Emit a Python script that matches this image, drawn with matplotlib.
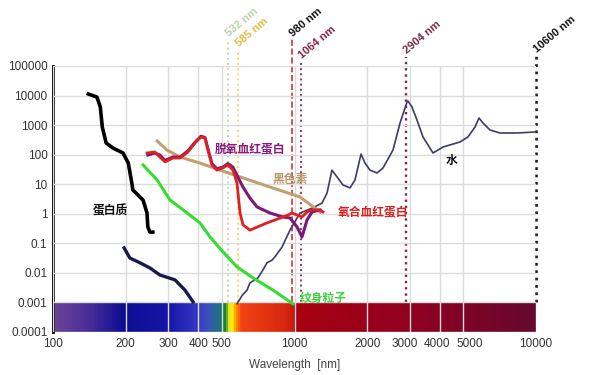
import numpy as np
import matplotlib.pyplot as plt
import matplotlib.transforms as mtransforms
from matplotlib.colors import LinearSegmentedColormap

plt.rcParams['font.family'] = ['Liberation Sans', 'Noto Sans CJK SC', 'DejaVu Sans']
cjk = ['Noto Sans CJK SC', 'DejaVu Sans']

# absorption curves, wavelength in nm vs relative absorption
protein_nm = [140, 152, 157, 160, 166, 177, 195, 205, 212, 214, 225, 236, 245, 247, 252, 259]
protein_val = [11300, 8900, 4100, 860, 248, 168, 114, 52, 11, 6.4, 4.3, 2.9, 1.07, 0.36, 0.24, 0.24]

protein2_nm = [197, 208, 229, 252, 277, 320, 352, 380]
protein2_val = [0.070, 0.032, 0.022, 0.0147, 0.0085, 0.0058, 0.0026, 0.00105]

tattoo_nm = [236, 270, 305, 359, 406, 447, 506, 578, 673, 815, 958, 985]
tattoo_val = [45, 13.8, 2.93, 1.07, 0.49, 0.164, 0.051, 0.016, 0.0068, 0.0026, 0.00105, 0.0009]

melanin_nm = [270, 296, 336, 406, 491, 769, 1054, 1276]
melanin_val = [290, 144, 83, 52, 30, 8.7, 3.7, 1.15]

oxy_nm = [245, 264, 277, 291, 314, 336, 362, 387, 410, 426, 438, 455, 477, 506, 530, 556, 578,
          595, 612, 654, 769, 896, 940, 977, 1024, 1074, 1127, 1182, 1275, 1312]
oxy_val = [114, 123, 83, 57, 77, 77, 123, 248, 396, 366, 144, 45, 30, 36, 45, 30, 11,
           1.06, 0.42, 0.28, 0.49, 0.78, 0.91, 1.06, 0.91, 0.78, 1.15, 1.35, 1.35, 1.15]

deoxy_nm = [247, 264, 277, 291, 314, 336, 362, 387, 410, 426, 438, 455, 477, 506, 530, 556, 578,
            612, 654, 700, 792, 896, 958, 1024, 1074, 1127, 1182, 1275]
deoxy_val = [97, 114, 97, 64, 83, 83, 135, 260, 420, 380, 160, 50, 33, 38, 50, 38, 20,
             8, 3.4, 1.7, 1.06, 0.78, 0.72, 0.36, 0.164, 0.62, 1.15, 1.35]

water_nm = [578, 609, 636, 654, 706, 740, 769, 807, 830, 888, 958, 1054, 1193, 1300, 1364, 1429,
            1500, 1588, 1698, 1780, 1886, 1959, 2054, 2196, 2326, 2558, 2735, 2924, 2951, 3066,
            3214, 3405, 3746, 4121, 4843, 5226, 5590, 5807, 6032, 6450, 7095, 8340, 9910]
water_val = [0.0009, 0.0018, 0.0026, 0.0046, 0.0068, 0.0125, 0.022, 0.027, 0.035, 0.075, 0.283,
             1.06, 1.6, 2.3, 5.06, 30, 17.6, 9.4, 7.5, 13.9, 105, 52, 30, 24, 35.5, 144, 1180,
             6050, 6550, 4100, 1490, 396, 114, 182, 268, 396, 863, 1740, 1180, 684, 541, 541, 585]

# laser wavelengths
laser_nm = [532, 585, 980, 1064, 2904, 10600]
laser_labels = ['532 nm', '585 nm', '980 nm', '1064 nm', '2904 nm', '10600 nm']

xticks = [100, 200, 300, 400, 500, 1000, 2000, 3000, 4000, 5000, 10000]
yticks = [1e-4, 1e-3, 1e-2, 1e-1, 1, 10, 100, 1000, 10000, 100000]
ytick_labels = ['0.0001', '0.001', '0.01', '0.1', '1', '10', '100', '1000', '10000', '100000']

fig = plt.figure(figsize=(5.89, 3.75), dpi=100)
ax = fig.add_axes([53 / 589, 1 - 332 / 375, 483 / 589, 266 / 375])
ax.set_xscale('log')
ax.set_yscale('log')
ax.set_xlim(100, 10000)
ax.set_ylim(1e-4, 1e5)

# spectrum bar along the bottom
stops = [(100, '#6c4496'), (140, '#4a2c98'), (195, '#0c0c92'), (300, '#1616a6'), (390, '#3434c4'),
         (440, '#3a52bc'), (480, '#236c88'), (505, '#1a7a55'), (520, '#0e8a20'), (536, '#e6e020'),
         (552, '#fff000'), (572, '#ff9000'), (600, '#f24214'), (900, '#d82810'), (995, '#c81a10'),
         (1005, '#a8000f'), (3000, '#900020'), (10000, '#66082e')]
cmap = LinearSegmentedColormap.from_list(
    'spec', [((np.log10(w) - 2) / 2, c) for w, c in stops])
xe = np.logspace(2, 4, 800)
xc = np.sqrt(xe[:-1] * xe[1:])
ax.pcolormesh(xe, [1e-4, 1e-3], ((np.log10(xc) - 2) / 2)[None, :], cmap=cmap,
              vmin=0, vmax=1, shading='flat', zorder=1)

ax.set_axisbelow(False)
ax.grid(True, which='major', color='#dcdcdc', lw=1, zorder=1.5)
ax.set_xticks(xticks)
ax.set_xticklabels([str(t) for t in xticks])
ax.set_xticks([], minor=True)
ax.set_yticks(yticks)
ax.set_yticklabels(ytick_labels)
ax.set_yticks([], minor=True)
ax.tick_params(length=0, labelcolor='#333333', labelsize=8.5, pad=4)
# the crowded labels are nudged off their grid lines, as in the original
shift_px = {'3000': -5, '4000': -3, '5000': 6}
for lab in ax.get_xticklabels():
    if lab.get_text() in shift_px:
        off = mtransforms.ScaledTranslation(shift_px[lab.get_text()] / 100, 0, fig.dpi_scale_trans)
        lab.set_transform(lab.get_transform() + off)
for s in ['top', 'right', 'bottom']:
    ax.spines[s].set_visible(False)
ax.spines['left'].set_linewidth(2)
ax.set_xlabel('Wavelength  [nm]', fontsize=8.5, color='#444444', labelpad=7)

# laser lines (10600 nm is drawn at the right edge of the axis)
line_style = [('#c4dab0', ':', 1.4, 8e5), ('#eedc60', ':', 1.4, 3.5e5), ('#d03434', '--', 1.2, 8e5),
              ('#a03050', ':', 1.4, 1.4e5), ('#7a2a44', ':', 1.7, 2.0e5), ('#222222', ':', 2.0, 2.3e5)]
label_color = ['#b8d4a0', '#e0bc40', '#111111', '#8a2040', '#7a2a44', '#111111']
for w, lab, (c, ls, lw, top), tc in zip(laser_nm, laser_labels, line_style, label_color):
    xw = min(w, 10000)
    ax.plot([xw, xw], [1e-3, top], color=c, ls=ls, lw=lw, clip_on=False, zorder=2)
    ax.text(xw * 1.02, top * 1.1, lab, rotation=40, rotation_mode='anchor', ha='left', va='bottom',
            fontsize=8, fontweight='bold', color=tc, clip_on=False)

# absorption curves
ax.plot(water_nm, water_val, color='#3c3c6a', lw=1.2, zorder=3)
ax.plot(protein_nm, protein_val, color='#000000', lw=2.6, zorder=3)
ax.plot(protein2_nm, protein2_val, color='#1a1a4a', lw=2.4, zorder=3)
ax.plot(tattoo_nm, tattoo_val, color='#36dc30', lw=2.2, zorder=3)
ax.plot(melanin_nm, melanin_val, color='#c0a070', lw=2.2, zorder=3)
ax.plot(deoxy_nm, deoxy_val, color='#7a1a78', lw=2.2, zorder=3)
ax.plot(oxy_nm, oxy_val, color='#e02020', lw=2.0, zorder=3)

# curve names
txt = dict(family=cjk, fontsize=8.5, fontweight='bold', ha='center', va='center')
ax.text(172, 1.24, '蛋白质', color='#111111', **txt)
ax.text(654, 155, '脱氧血红蛋白', color='#8a1a7e', **txt)
ax.text(957, 13.9, '黑色素', color='#b89868', **txt)
ax.text(2113, 1.15, '氧合血红蛋白', color='#d82020', **txt)
ax.text(4487, 66, '水', color='#111111', **txt)
ax.text(1312, 0.00142, '纹身粒子', color='#40d040', **txt)

fig.savefig('out.png', dpi=100)
